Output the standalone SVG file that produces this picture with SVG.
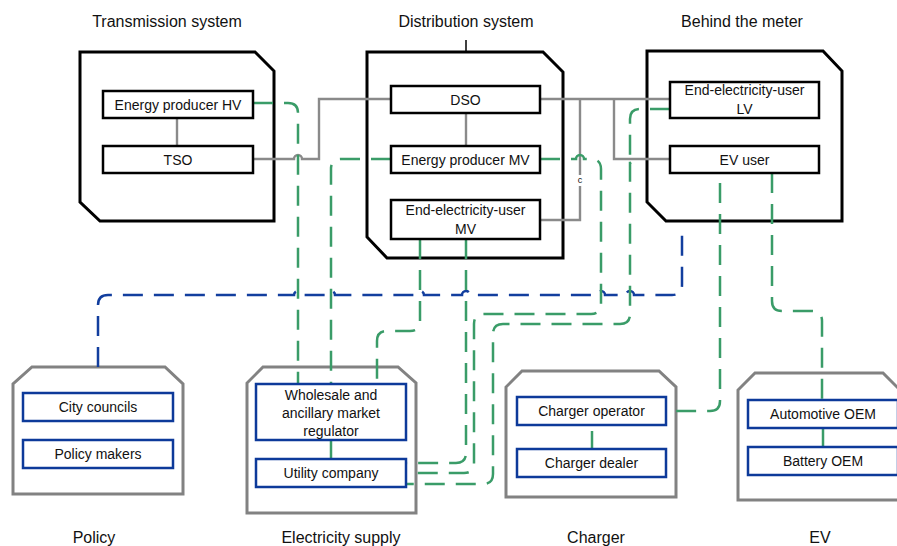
<svg xmlns="http://www.w3.org/2000/svg" width="897" height="546" viewBox="0 0 897 546">
  <defs>
    <style>
      text { font-family: "Liberation Sans", Arial, sans-serif; fill: #111; text-anchor: middle; }
      .title { font-size: 16px; }
      .lbl { font-size: 14px; }
      .small { font-size: 9px; }
      .sys { fill: #fff; stroke: #000; stroke-width: 3; stroke-linejoin: miter; }
      .grp { fill: #fff; stroke: #828282; stroke-width: 3; }
      .box { fill: #fff; stroke: #000; stroke-width: 2.5; }
      .bbox { fill: #fff; stroke: #0d3a9a; stroke-width: 2.5; }
      .grey { fill: none; stroke: #8a8a8a; stroke-width: 2.4; }
      .green { fill: none; stroke: #3a9c68; stroke-width: 2.5; stroke-dasharray: 20 11; }
      .greenSolid { fill: none; stroke: #3a9c68; stroke-width: 2.5; }
      .blue { fill: none; stroke: #123e9e; stroke-width: 2.5; stroke-dasharray: 20 11; }
    </style>
  </defs>
  <rect width="897" height="546" fill="#fff"/>

  <!-- section titles -->
  <text class="title" x="167" y="27">Transmission system</text>
  <text class="title" x="466" y="27">Distribution system</text>
  <text class="title" x="742" y="27">Behind the meter</text>
  <text class="title" x="94" y="543">Policy</text>
  <text class="title" x="341" y="543">Electricity supply</text>
  <text class="title" x="596" y="543">Charger</text>
  <text class="title" x="820" y="543">EV</text>
  <line x1="466" y1="40" x2="466" y2="52" stroke="#000" stroke-width="1.5"/>

  <!-- system containers -->
  <g id="transmission-system"><path class="sys" d="M80,52 H255 L274,71 V221 H100 L80,202 Z"/></g>
  <g id="distribution-system"><path class="sys" d="M367,52 H543 L563,72 V258 H387 L367,237 Z"/></g>
  <g id="behind-the-meter"><path class="sys" d="M647,51 H823 L842,71 V221 H666 L647,202 Z"/></g>
  <g id="policy"><path class="grp" d="M32,367 H165 L183,384 V494 H13 V384 Z"/></g>
  <g id="electricity-supply"><path class="grp" d="M263,367 H398 L416,383 V513 H247 V383 Z"/></g>
  <g id="charger"><path class="grp" d="M522,371 H659 L676,387 V497 H506 V387 Z"/></g>
  <g id="ev"><path class="grp" d="M755,373 H883 L900,390 V500 H738 V390 Z"/></g>

  <!-- connectors -->
  <g id="connectors">
    <!-- grid links -->
    <path class="grey" d="M177,118 V146"/>
    <path class="grey" d="M466,113 V146"/>
    <path class="grey" d="M253,159 H294 a4,4 0 0 1 8,0 H319 V99 H391"/>
    <path class="grey" d="M540,99 H670"/>
    <path class="grey" d="M580,99 V220 H540"/>
    <path class="grey" d="M614,99 V159 H670"/>
    <rect x="576" y="175" width="8" height="11" fill="#fff"/>
    <text class="small" x="580" y="183">c</text>

    <!-- policy link -->
    <path class="blue" d="M98,367 V305 Q98,295 108,295 H294 a4,4 0 0 1 8,0 H327 a4,4 0 0 1 8,0 H416 a4,4 0 0 1 8,0 H462 a4,4 0 0 1 8,0 H597 a4,4 0 0 1 8,0 H626 a4,4 0 0 1 8,0 H672 Q682,295 682,285 V228"/>

    <!-- market / supply links -->
    <path class="green" d="M253,103 H288 Q298,103 298,113 V384"/>
    <path class="green" d="M391,159 H341 Q331,159 331,169 V384"/>
    <path class="green" d="M420,239 V321 Q420,331 410,331 H387 Q377,331 377,341 V384"/>
    <path class="green" d="M466,239 V453 Q466,463 456,463 H406"/>
    <path class="green" d="M540,159 H576 a4,4 0 0 1 8,0 H591 Q601,159 601,169 V304 Q601,314 591,314 H484 Q474,314 474,324 V463 Q474,473 464,473 H406"/>
    <path class="green" d="M670,109 H640 Q630,109 630,119 V155 a4,4 0 0 1 0,8 V314 Q630,324 620,324 H503 Q493,324 493,334 V474 Q493,484 483,484 H406"/>
    <path class="green" d="M772,173 V301 Q772,311 782,311 H812 Q822,311 822,321 V400"/>
    <path class="green" d="M720,183 V401 Q720,411 710,411 H666"/>
    <path class="greenSolid" d="M331,440 V459"/>
    <path class="greenSolid" d="M592,431 V449"/>
    <path class="greenSolid" d="M823,428 V447"/>
  </g>

  <!-- transmission nodes -->
  <g id="energy-producer-hv"><rect class="box" x="103" y="91" width="150" height="27"/><text class="lbl" x="178" y="109.5">Energy producer HV</text></g>
  <g id="tso"><rect class="box" x="103" y="146" width="150" height="27"/><text class="lbl" x="178" y="164.5">TSO</text></g>

  <!-- distribution nodes -->
  <g id="dso"><rect class="box" x="391" y="86" width="149" height="27"/><text class="lbl" x="465.5" y="104.5">DSO</text></g>
  <g id="energy-producer-mv"><rect class="box" x="391" y="146" width="149" height="27"/><text class="lbl" x="465.5" y="164.5">Energy producer MV</text></g>
  <g id="end-user-mv"><rect class="box" x="391" y="200" width="149" height="39"/><text class="lbl" x="465.5" y="215">End-electricity-user</text><text class="lbl" x="465.5" y="234">MV</text></g>

  <!-- behind-the-meter nodes -->
  <g id="end-user-lv"><rect class="box" x="670" y="82" width="149" height="36"/><text class="lbl" x="744.5" y="95">End-electricity-user</text><text class="lbl" x="744.5" y="114">LV</text></g>
  <g id="ev-user"><rect class="box" x="670" y="146" width="149" height="27"/><text class="lbl" x="744.5" y="164.5">EV user</text></g>

  <!-- policy nodes -->
  <g id="city-councils"><rect class="bbox" x="23" y="393" width="150" height="28"/><text class="lbl" x="98" y="412">City councils</text></g>
  <g id="policy-makers"><rect class="bbox" x="23" y="440" width="150" height="28"/><text class="lbl" x="98" y="459">Policy makers</text></g>

  <!-- electricity supply nodes -->
  <g id="market-regulator"><rect class="bbox" x="256" y="384" width="150" height="56"/><text class="lbl" x="331" y="400">Wholesale and</text><text class="lbl" x="331" y="418">ancillary market</text><text class="lbl" x="331" y="436">regulator</text></g>
  <g id="utility-company"><rect class="bbox" x="256" y="459" width="150" height="28"/><text class="lbl" x="331" y="478">Utility company</text></g>

  <!-- charger nodes -->
  <g id="charger-operator"><rect class="bbox" x="517" y="397" width="149" height="28"/><text class="lbl" x="591.5" y="416">Charger operator</text></g>
  <g id="charger-dealer"><rect class="bbox" x="517" y="449" width="149" height="28"/><text class="lbl" x="591.5" y="468">Charger dealer</text></g>

  <!-- EV nodes -->
  <g id="automotive-oem"><rect class="bbox" x="748" y="400" width="150" height="28"/><text class="lbl" x="823" y="419">Automotive OEM</text></g>
  <g id="battery-oem"><rect class="bbox" x="748" y="447" width="150" height="28"/><text class="lbl" x="823" y="466">Battery OEM</text></g>
</svg>
